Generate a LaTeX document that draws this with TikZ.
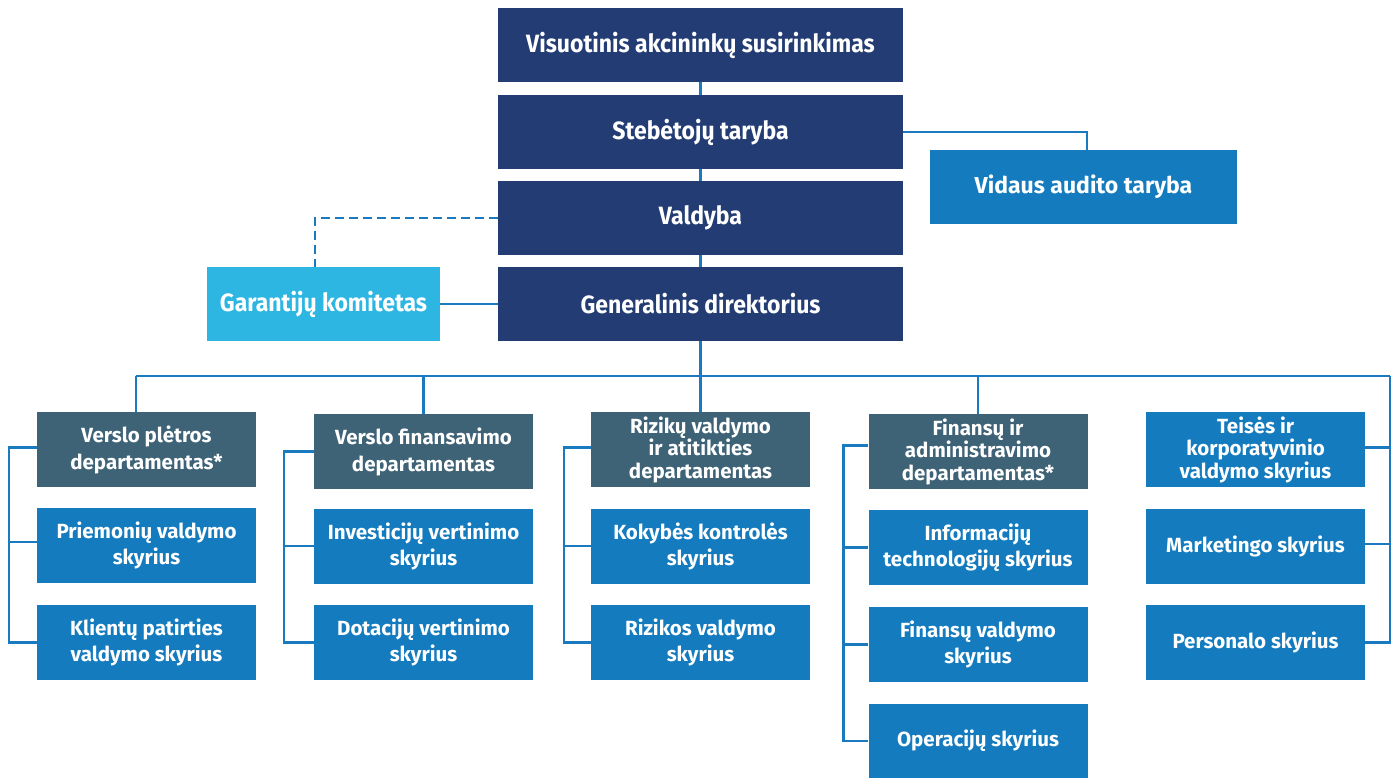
\documentclass[tikz,border=0pt]{standalone}
\usepackage{fontspec}
\setmainfont{Fira Sans}
\newfontfamily\condfont[FakeStretch=0.92]{Fira Sans}
\definecolor{navy}{HTML}{233C73}
\definecolor{slate}{HTML}{3E6276}
\definecolor{midblue}{HTML}{137BBE}
\definecolor{cyanbox}{HTML}{2EB6E3}
\definecolor{linec}{HTML}{1A7AC0}
\begin{document}
\begin{tikzpicture}[x=1pt,y=-1pt,
  box/.style={rectangle, inner sep=1pt, align=center, text=white, font=\bfseries},
  topbox/.style={box, fill=navy, minimum width=405pt, minimum height=74pt, font=\condfont\bfseries\fontsize{25}{29}\selectfont},
  sidebox/.style={box, minimum height=74pt, font=\bfseries\fontsize{23}{27}\selectfont},
  dept/.style={box, fill=slate, minimum width=219pt, minimum height=75pt, font=\bfseries\fontsize{20.5}{27}\selectfont},
  dept3/.style={dept, font=\bfseries\fontsize{20.5}{22.5}\selectfont},
  unit/.style={box, fill=midblue, minimum width=219pt, minimum height=75pt, font=\bfseries\fontsize{20.5}{26}\selectfont},
  conn/.style={draw=linec, line width=2.5pt},
  dconn/.style={conn, dash pattern=on 9pt off 5pt}]
\useasboundingbox (0,0) rectangle (1398,778);
% top chain
\node[topbox] (vas) at (700.5,45) {Visuotinis akcininkų susirinkimas};
\node[topbox] (st) at (700.5,132) {Stebėtojų taryba};
\node[topbox] (val) at (700.5,218) {Valdyba};
\node[topbox] (gd) at (700.5,304) {Generalinis direktorius};
\node[sidebox, fill=midblue, minimum width=307pt] (vat) at (1083.5,187) {Vidaus audito taryba};
\node[sidebox, fill=cyanbox, minimum width=233pt] (gk) at (323.5,304) {\condfont\bfseries\fontsize{25}{29}\selectfont Garantijų komitetas};
% columns
\node[dept] (d1) at (146.5,449.5) {Verslo plėtros\\departamentas*};
\node[unit] (a1) at (146.5,545) {Priemonių valdymo\\skyrius};
\node[unit] (a2) at (146.5,642.5) {Klientų patirties\\valdymo skyrius};
\node[dept] (d2) at (423.5,451.5) {Verslo finansavimo\\departamentas};
\node[unit] (b1) at (423.5,546) {Investicijų vertinimo\\skyrius};
\node[unit] (b2) at (423.5,642.5) {Dotacijų vertinimo\\skyrius};
\node[dept3] (d3) at (700.5,449.5) {Rizikų valdymo\\ir atitikties\\departamentas};
\node[unit] (c1) at (700.5,546) {Kokybės kontrolės\\skyrius};
\node[unit] (c2) at (700.5,642.5) {Rizikos valdymo\\skyrius};
\node[dept3] (d4) at (978,451.5) {Finansų ir\\administravimo\\departamentas*};
\node[unit] (e1) at (978,547.5) {Informacijų\\technologijų skyrius};
\node[unit] (e2) at (978,644.5) {Finansų valdymo\\skyrius};
\node[unit] (e3) at (978,741) {Operacijų skyrius};
\node[unit, font=\bfseries\fontsize{20.5}{22.5}\selectfont] (f1) at (1255.5,449.5) {Teisės ir\\korporatyvinio\\valdymo skyrius};
\node[unit] (f2) at (1255.5,546) {Marketingo skyrius};
\node[unit] (f3) at (1255.5,642.5) {Personalo skyrius};
% coordinates
\coordinate (busy) at (0,376);
\coordinate (busL) at (136,376);
\coordinate (busR) at (1390,376);
\coordinate (gkd) at (315,0);
% top connectors
\draw[conn] (vas) -- (st);
\draw[conn] (st) -- (val);
\draw[conn] (val) -- (gd);
\draw[conn] (st.east |- 0,132) -| (vat.north -| 1087,0);
\draw[conn] (gk.east) -- (gd.west);
\draw[dconn] (val.west) -| (gk.north -| gkd);
% bus
\draw[conn] (gd.south) -- (gd.south |- busy);
\draw[conn] (busL) -- (busR);
\draw[conn] (busL) -- (busL |- d1.north);
\draw[conn] (d2.north) -- (d2.north |- busy);
\draw[conn] (d3.north) -- (d3.north |- busy);
\draw[conn] (d4.north) -- (d4.north |- busy);
% brackets
\draw[conn] ([yshift=2]d1.west) -- ++(-28,0) |- (a2.west);
\draw[conn] ([yshift=3]a1.west) -- ++(-28,0);
\draw[conn] ([yshift=0]d2.west) -- ++(-30,0) |- (b2.west);
\draw[conn] (b1.west) -- ++(-30,0);
\draw[conn] ([yshift=2]d3.west) -- ++(-27,0) |- (c2.west);
\draw[conn] (c1.west) -- ++(-27,0);
\draw[conn] ([yshift=6]d4.west) -- ++(-25,0) |- (e3.west);
\draw[conn] (e1.west) -- ++(-25,0);
\draw[conn] (e2.west) -- ++(-25,0);
\draw[conn] (busR) |- (f3.east);
\draw[conn] ([yshift=2]f1.east) -- ([yshift=2]f1.east -| busR);
\draw[conn] ([yshift=2]f2.east) -- ([yshift=2]f2.east -| busR);
\end{tikzpicture}
\end{document}
